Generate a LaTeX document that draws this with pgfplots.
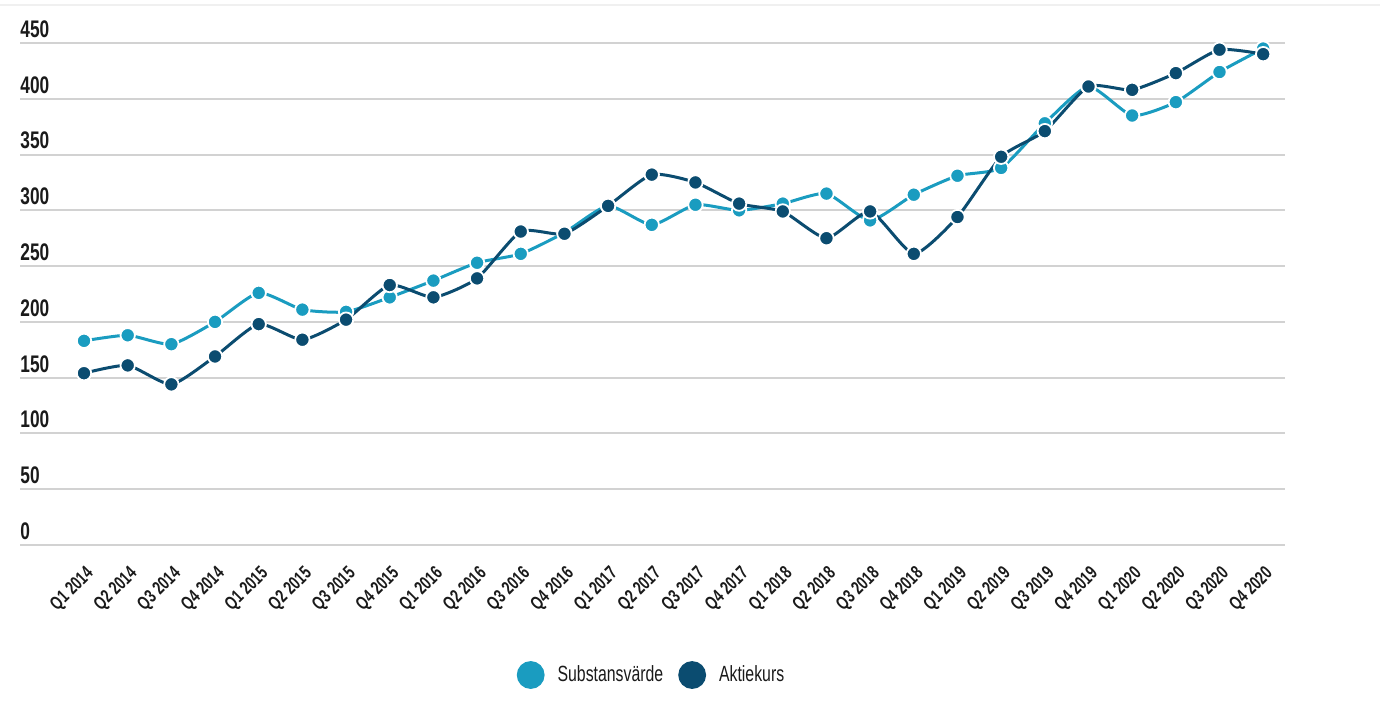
\documentclass[border=0pt]{standalone}
\usepackage{fontspec}
\setmainfont{Liberation Sans}[FakeStretch=0.72]
\usepackage{pgfplots}
\pgfplotsset{compat=1.18}

\definecolor{lightline}{HTML}{1A9CC0}
\definecolor{darkline}{HTML}{0B4C70}
\definecolor{gridgray}{HTML}{D2D2D2}
\definecolor{txt}{HTML}{1A1A1A}

\pgfplotstableread{
x subst aktie
0  183 154
1  188 161
2  180 144
3  200 169
4  226 198
5  211 184
6  209 202
7  222 233
8  237 222
9  253 239
10 261 281
11 280 279
12 304 304
13 287 332
14 305 325
15 300 306
16 306 299
17 315 275
18 291 299
19 314 261
20 331 294
21 338 348
22 378 371
23 411 411
24 385 408
25 397 423
26 424 444
27 445 440
}\datatable

\begin{document}
\begin{tikzpicture}
\path[use as bounding box] (0,0) rectangle (690pt,355pt);
\draw[color=gray!12, line width=0.8pt] (0pt,352.5pt) -- (690pt,352.5pt);
\begin{axis}[
  at={(10pt,82.5pt)}, anchor=south west,
  scale only axis, width=632.5pt, height=251pt,
  xmin=-1.466, xmax=27.5, ymin=0, ymax=450,
  axis line style={draw=none},
  major tick length=0pt,
  ytick={0,50,...,450},
  ymajorgrids, grid style={gridgray, line width=1pt},
  xtick=data,
  xticklabels={Q1 2014,Q2 2014,Q3 2014,Q4 2014,Q1 2015,Q2 2015,Q3 2015,Q4 2015,Q1 2016,Q2 2016,Q3 2016,Q4 2016,Q1 2017,Q2 2017,Q3 2017,Q4 2017,Q1 2018,Q2 2018,Q3 2018,Q4 2018,Q1 2019,Q2 2019,Q3 2019,Q4 2019,Q1 2020,Q2 2020,Q3 2020,Q4 2020},
  xticklabel style={xshift=3.5pt, yshift=-13pt, rotate=45, anchor=east, inner sep=0pt,
    font=\fontsize{9.4}{11}\selectfont\bfseries, text=txt},
  yticklabel style={font=\fontsize{12}{14}\selectfont\bfseries, text=txt, anchor=south west, inner sep=0pt, yshift=2.5pt},
  /pgf/number format/assume math mode=true,
  legend style={at={(0.500,-0.259)}, anchor=center, draw=none, fill=none,
    font=\fontsize{11}{13}\selectfont, text=txt, legend columns=2,
    /tikz/every odd column/.append style={column sep=4.5pt},
    /tikz/every even column/.append style={column sep=5.5pt}},
  legend cell align=left,
]
\addplot[lightline, line width=1.5pt, smooth, tension=0.35, mark=*,
  mark options={fill=lightline, draw=white, line width=0.9pt, mark size=3.6pt},
  legend image code/.code={\fill[lightline] (0pt,0pt) circle (6.2pt);}]
  table[x=x, y=subst] {\datatable};
\addlegendentry{Substansvärde}
\addplot[darkline, line width=1.5pt, smooth, tension=0.35, mark=*,
  mark options={fill=darkline, draw=white, line width=0.9pt, mark size=3.6pt},
  legend image code/.code={\fill[darkline] (0pt,0pt) circle (6.2pt);}]
  table[x=x, y=aktie] {\datatable};
\addlegendentry{Aktiekurs}
\end{axis}
\end{tikzpicture}
\end{document}
